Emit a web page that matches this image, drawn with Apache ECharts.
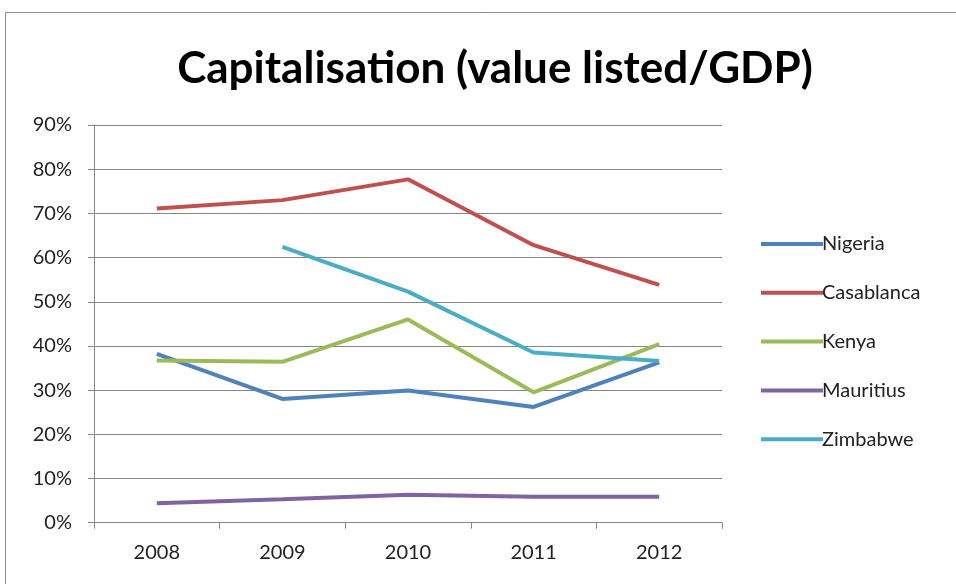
<!DOCTYPE html>
<html>
<head>
<meta charset="utf-8">
<script src="https://cdn.jsdelivr.net/npm/echarts@6/dist/echarts.min.js"></script>
<style>
  html, body { margin: 0; padding: 0; background: #fff; }
  #chart { width: 956px; height: 584px; }
</style>
</head>
<body>
<div id="chart"></div>
<script>
// Market capitalisation as a share of GDP, 2008-2012
const years = ['2008', '2009', '2010', '2011', '2012'];
const nigeria    = [38.2, 28.0, 29.9, 26.2, 36.3];
const casablanca = [71.1, 73.0, 77.7, 62.8, 53.8];
const kenya      = [36.7, 36.4, 46.0, 29.5, 40.4];
const mauritius  = [4.4, 5.3, 6.3, 5.9, 5.9];
const zimbabwe   = [null, 62.4, 52.3, 38.5, 36.6];

const seriesDefs = [
  { name: 'Nigeria', data: nigeria, color: '#4F81BD' },
  { name: 'Casablanca', data: casablanca, color: '#C0504D' },
  { name: 'Kenya', data: kenya, color: '#9BBB59' },
  { name: 'Mauritius', data: mauritius, color: '#8064A2' },
  { name: 'Zimbabwe', data: zimbabwe, color: '#4BACC6' }
];

const font = 'Lato, "Open Sans", sans-serif';
const chart = echarts.init(document.getElementById('chart'), null, { renderer: 'canvas' });

chart.setOption({
  animation: false,
  backgroundColor: '#fff',
  textStyle: { fontFamily: font },
  graphic: [{
    type: 'rect',
    shape: { x: 5.5, y: 12.5, width: 1000, height: 1000 },
    style: { fill: 'none', stroke: '#8c8c8c', lineWidth: 1 },
    silent: true
  }],
  title: {
    text: 'Capitalisation (value listed/GDP)',
    left: 490, top: 42, textAlign: 'center',
    textStyle: { fontFamily: font, fontSize: 44, fontWeight: 'bold', color: '#000' }
  },
  legend: {
    orient: 'vertical',
    left: 756, top: 228,
    itemWidth: 62, itemHeight: 4, itemGap: 26.8,
    icon: 'rect',
    textStyle: { fontFamily: font, fontSize: 20, color: '#222', padding: [0, 0, 0, -6], lineHeight: 22 },
    data: seriesDefs.map(s => s.name)
  },
  grid: { left: 94, right: 234, top: 125, bottom: 61.3, containLabel: false },
  xAxis: {
    type: 'category',
    data: years,
    boundaryGap: true,
    axisLine: { lineStyle: { color: '#868686', width: 1 } },
    axisTick: { show: true, length: 6, lineStyle: { color: '#868686' } },
    axisLabel: { fontFamily: font, fontSize: 20, color: '#222', margin: 20 }
  },
  yAxis: {
    type: 'value',
    min: 0, max: 90, interval: 10,
    axisLine: { show: true, lineStyle: { color: '#868686', width: 1 } },
    axisTick: { show: true, length: 6, lineStyle: { color: '#868686' } },
    axisLabel: { fontFamily: font, fontSize: 20, color: '#222', margin: 22, formatter: v => v + '%' },
    splitLine: { lineStyle: { color: '#868686', width: 1 } }
  },
  series: seriesDefs.map(s => ({
    name: s.name,
    type: 'line',
    data: s.data,
    symbol: 'none',
    connectNulls: false,
    lineStyle: { color: s.color, width: 4 },
    itemStyle: { color: s.color }
  }))
});
</script>
</body>
</html>
